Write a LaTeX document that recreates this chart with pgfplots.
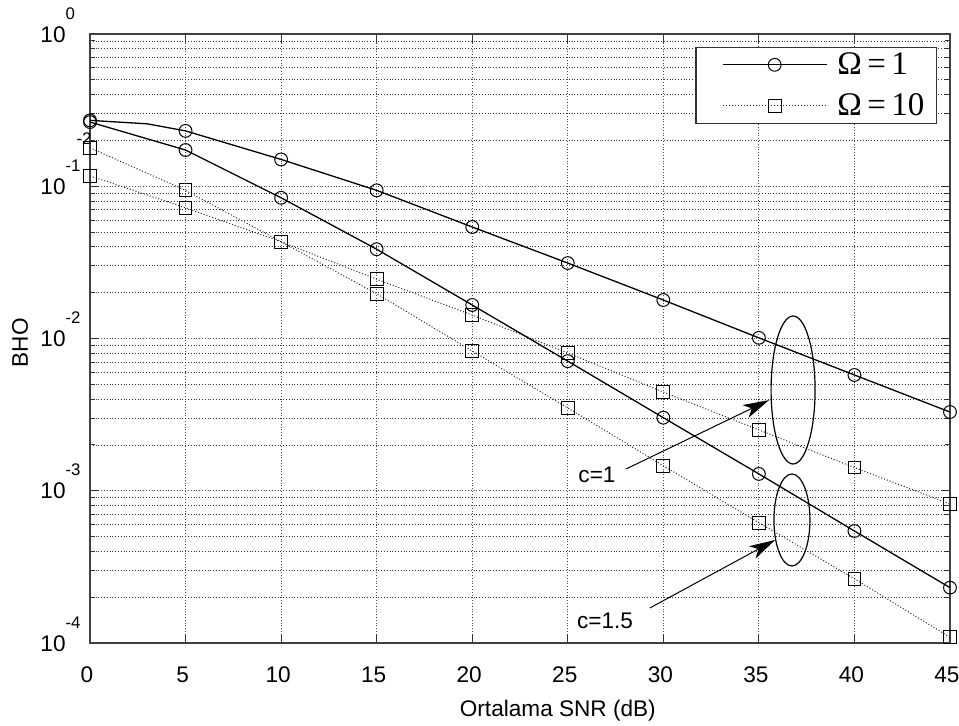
\documentclass[border=0pt]{standalone}
\usepackage{fontspec}
\setmainfont{Liberation Sans}
\newfontfamily\legfont{Liberation Serif}
\usepackage{pgfplots}
\pgfplotsset{compat=1.18}
\usetikzlibrary{arrows.meta}

\newcommand{\lbl}[1]{10\rlap{\raisebox{11.5pt}{\fontsize{8.4}{8.4}\selectfont #1}}}

\begin{document}
\begin{tikzpicture}
\useasboundingbox (-45pt,-41pt) rectangle (434.5pt,321.5pt);
\begin{axis}[at={(0,0)}, anchor=south west, scale only axis, width=430pt, height=304.5pt,
  ymode=log, xmin=0, xmax=45, ymin=1e-4, ymax=1,
  xtick={0,5,10,15,20,25,30,35,40,45},
  ytick={1e-4,1e-3,1e-2,1e-1,1},
  yticklabels={\lbl{-4},\lbl{-3},\lbl{-2},\lbl{-1},\lbl{0}},
  font=\fontsize{11.3}{13}\selectfont,
  /pgf/number format/assume math mode=true,
  xticklabel style={anchor=base, inner sep=0pt, yshift=-19.5pt, xshift=-1.5pt},
  yticklabel style={anchor=base east, inner sep=0pt, xshift=-12pt, yshift=-4pt},
  tick align=inside, major tick length=4.5pt, minor tick length=2.5pt,
  tick style={black!80, line width=0.5pt},
  axis line style={black!75, line width=0.7pt},
  xmajorgrids, ymajorgrids, yminorgrids,
  major grid style={densely dotted, black!70, line width=0.4pt},
  minor grid style={densely dotted, black!80, line width=0.4pt},
  xlabel={Ortalama SNR (dB)}, ylabel={BHO},
  xlabel style={at={(axis description cs:0.544,-0.12)}, anchor=base},
  ylabel style={at={(axis description cs:-0.0814,0.493)}, anchor=center, rotate=0},
  clip=false,
  legend style={at={(rel axis cs:0.985,0.979)}, anchor=north east, draw=black!80, line width=0.6pt,
    fill=white, font=\legfont\fontsize{16.5}{19}\selectfont, inner xsep=4pt, inner ysep=0.5pt,
    row sep=4pt, column sep=3pt, cells={anchor=west}},
  legend image code/.code={\path (-9pt,0pt); \draw[#1, mark indices={2}] plot coordinates {(0pt,0pt) (26pt,0pt) (52pt,0pt)};},
]
\node[font=\fontsize{8.4}{8.4}\selectfont, inner sep=0pt] at (axis cs:-0.31,0.207) {-2};
% Omega = 1, c = 1
\addplot[black, line width=0.65pt, mark=o, mark size=3.2pt, mark options={line width=0.5pt}, mark indices={1,3,4,5,6,7,8,9,10,11}]
  coordinates {(0,0.271) (3,0.257) (5,0.231) (10,0.150) (15,0.094) (20,0.054) (25,0.0313) (30,0.0179) (35,0.0101) (40,0.00576) (45,0.00329)};
\addlegendentry{Ω\,=\,1}
% Omega = 10, c = 1
\addplot[black!85, densely dotted, line width=0.5pt, mark=square, mark size=3.2pt, mark options={solid, black, line width=0.5pt}]
  coordinates {(0,0.179) (5,0.094) (10,0.0432) (15,0.0245) (20,0.01426) (25,0.00803) (30,0.00445) (35,0.00251) (40,0.00142) (45,0.00082)};
\addlegendentry{Ω\,=\,10}
% Omega = 1, c = 1.5
\addplot[black, line width=0.65pt, mark=o, mark size=3.2pt, mark options={line width=0.5pt}, forget plot]
  coordinates {(0,0.264) (5,0.173) (10,0.084) (15,0.0386) (20,0.0166) (25,0.0071) (30,0.00302) (35,0.00129) (40,0.000544) (45,0.000231)};
% Omega = 10, c = 1.5
\addplot[black!85, densely dotted, line width=0.5pt, mark=square, mark size=3.2pt, mark options={solid, black, line width=0.5pt}, forget plot]
  coordinates {(0,0.117) (5,0.0722) (10,0.0432) (15,0.0197) (20,0.00828) (25,0.0035) (30,0.00146) (35,0.000617) (40,0.000264) (45,0.000109)};
% annotations
\draw[black, line width=0.6pt] (axis cs:36.79,4.59e-3) ellipse [x radius=11pt, y radius=37pt];
\draw[black, line width=0.6pt] (axis cs:36.73,6.43e-4) ellipse [x radius=9pt, y radius=23pt];
\draw[black, line width=0.5pt, -{Stealth[length=13pt, width=7pt, inset=3.5pt]}] (axis cs:28.05,1.39e-3) -- (axis cs:35.53,3.94e-3);
\draw[black, line width=0.5pt, -{Stealth[length=13pt, width=7pt, inset=3.5pt]}] (axis cs:29.30,1.70e-4) -- (axis cs:35.85,4.75e-4);
\node[inner sep=0pt] at (axis cs:26.53,1.27e-3) {c=1};
\node[inner sep=0pt] at (axis cs:26.95,1.40e-4) {c=1.5};
\end{axis}
\end{tikzpicture}
\end{document}
